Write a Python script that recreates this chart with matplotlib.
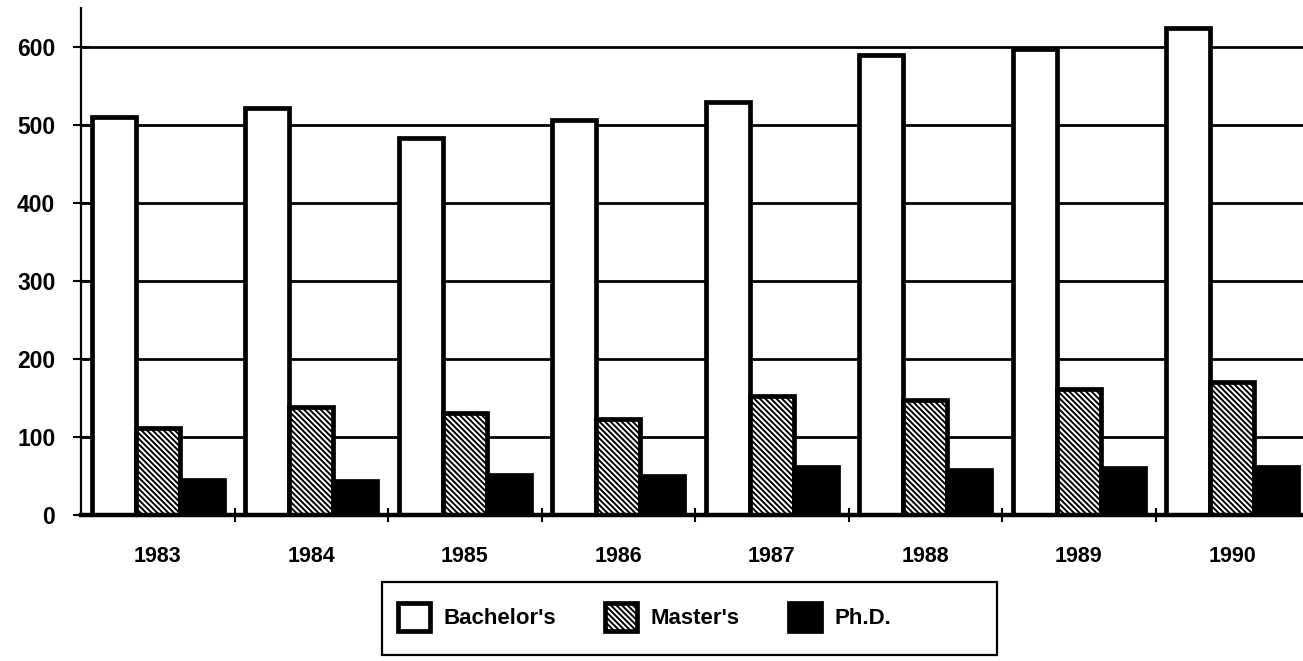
import matplotlib
matplotlib.use("Agg")
import matplotlib.pyplot as plt
import numpy as np
from matplotlib.patches import Patch, Rectangle

years = ["1983", "1984", "1985", "1986", "1987", "1988", "1989", "1990"]
bachelors = [510, 522, 483, 506, 530, 590, 597, 624]
masters = [112, 138, 131, 123, 153, 147, 161, 171]
phd = [45, 43, 51, 50, 61, 58, 60, 61]
series_names = ["Bachelor's", "Master's", "Ph.D."]
yticks = [0, 100, 200, 300, 400, 500, 600]

fam = ["Liberation Sans", "DejaVu Sans"]
plt.rcParams["font.family"] = fam
plt.rcParams["hatch.linewidth"] = 1.4

W, H = 1303, 661
fig = plt.figure(figsize=(W / 100, H / 100), dpi=100)
left_px, base_px, top_px, span_px = 81, 515, 8, 1228
ax = fig.add_axes([left_px / W, (H - base_px) / H, span_px / W, (base_px - top_px) / H])

x = np.arange(len(years))
bw = 0.287
edge_lw = 3.4
styles = [
    dict(facecolor="white", edgecolor="black", linewidth=edge_lw),
    dict(facecolor="white", edgecolor="black", linewidth=edge_lw, hatch="\\" * 6),
    dict(facecolor="black", edgecolor="black", linewidth=edge_lw),
]
for i, (vals, st) in enumerate(zip([bachelors, masters, phd], styles)):
    ax.bar(x + (i - 1) * bw, vals, width=bw, zorder=3, **st)

ax.set_xlim(-0.5, len(years) - 0.5)
ax.set_ylim(0, 650)
ax.set_yticks(yticks)
ax.set_yticklabels([str(t) for t in yticks], fontsize=16.5, fontweight="bold")
ax.yaxis.grid(True, color="black", linewidth=2.0, zorder=0)
ax.set_axisbelow(True)

ax.set_xticks(x)
ax.set_xticklabels(years, fontsize=15.5, fontweight="bold")
ax.tick_params(axis="x", which="major", length=0, pad=22)
ax.set_xticks(np.arange(len(years)) + 0.5, minor=True)
ax.tick_params(axis="x", which="minor", direction="inout", length=10, width=1.5)
ax.tick_params(axis="y", direction="inout", length=12, width=1.5, pad=12.5)

for s in ["top", "right"]:
    ax.spines[s].set_visible(False)
ax.spines["left"].set_linewidth(1.6)
ax.spines["bottom"].set_linewidth(3.2)
ax.spines["bottom"].set_zorder(4)

# legend frame box
fig.patches.append(Rectangle((382 / W, 1 - 655 / H), (997 - 382) / W, (655 - 582) / H,
                             transform=fig.transFigure, fill=False, edgecolor="black",
                             linewidth=1.6, zorder=9))

handles = [Patch(label=n, **st) for n, st in zip(series_names, styles)]
leg = fig.legend(handles=handles, loc="center left", bbox_to_anchor=(398 / W, 1 - 617 / H),
                 ncol=3, frameon=False, borderpad=0, borderaxespad=0,
                 prop={"family": fam, "size": 16, "weight": "bold"},
                 handlelength=1.45, handleheight=1.5, columnspacing=2.2, handletextpad=0.6)
leg.set_zorder(10)

fig.savefig("out.png", dpi=100)
